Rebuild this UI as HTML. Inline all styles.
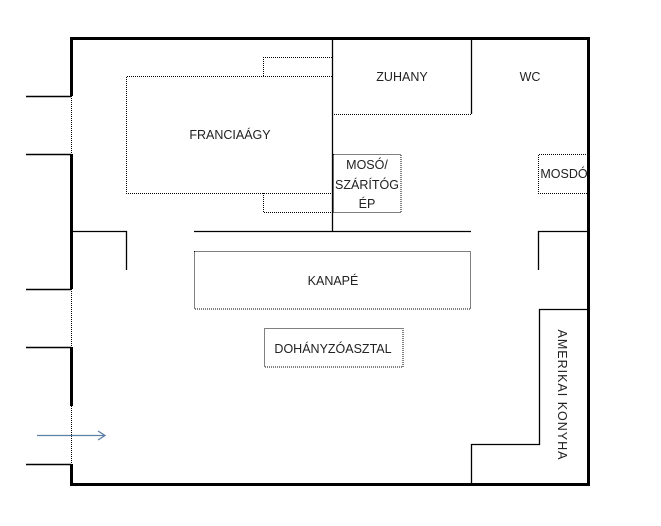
<!DOCTYPE html>
<html><head><meta charset="utf-8"><style>
html,body{margin:0;padding:0;background:#fff;}
svg{display:block;}
text{font-family:"Liberation Sans",sans-serif;font-size:12.5px;fill:#222;}
</style></head><body>
<svg width="661" height="526" viewBox="0 0 661 526" xmlns="http://www.w3.org/2000/svg">
<g stroke="#000" fill="none">
<path d="M71.5 96 V38.5 H588.5 V484.5 H71.5 V464" stroke-width="3"/>
<path d="M71.5 154 V289" stroke-width="3"/>
<path d="M71.5 347 V406" stroke-width="3"/>
<g stroke-width="1" stroke-dasharray="1,1">
<path d="M71.5 96 V154 M71.5 289 V347 M71.5 406 V464"/>
</g>
<g stroke-width="1.5">
<path d="M26 96.5 H71 M26 154.5 H71 M26 289.5 H71 M26 347.5 H71 M26 464.5 H71"/>
</g>
<g stroke-width="1.3">
<path d="M332.5 38 V231.5"/>
<path d="M194 231.5 H471"/>
<path d="M471.5 38 V114"/>
<path d="M71 231.5 H126.5 V270"/>
<path d="M588 231.5 H538.5 V270"/>
<path d="M588 309.5 H539.5 V444.5 H471.5 V484"/>
</g>
<g stroke-width="1" stroke-dasharray="1,1">
<path d="M332 114.5 H471"/>
<path d="M332 76.5 H126.5 V193.5 H332"/>
<path d="M263.5 76 V57.5 H332"/>
<path d="M263.5 193 V212.5 H332"/>
<rect x="333.5" y="154.5" width="67.5" height="58"/>
<path d="M588 154.5 H538.5 V193.5 H588"/>
<rect x="194.5" y="251.5" width="276" height="57.5"/>
<rect x="264.5" y="328.5" width="138.5" height="38.5"/>
</g>
</g>
<g stroke="#5b7fa6" stroke-width="1.3" fill="none">
<path d="M37 435.5 H105 M98 431 L105 435.5 L98 440"/>
</g>
<text x="230" y="139" text-anchor="middle">FRANCIAÁGY</text>
<text x="402" y="81" text-anchor="middle">ZUHANY</text>
<text x="530" y="81" text-anchor="middle">WC</text>
<text x="367" y="169" text-anchor="middle">MOSÓ/</text>
<text x="367" y="189" text-anchor="middle">SZÁRÍTÓG</text>
<text x="367" y="208" text-anchor="middle">ÉP</text>
<text x="564" y="178" text-anchor="middle">MOSDÓ</text>
<text x="333" y="285" text-anchor="middle">KANAPÉ</text>
<text x="333" y="353" text-anchor="middle">DOHÁNYZÓASZTAL</text>
<text transform="translate(558,395) rotate(90)" text-anchor="middle" style="letter-spacing:1px">AMERIKAI KONYHA</text>
</svg>
</body></html>
